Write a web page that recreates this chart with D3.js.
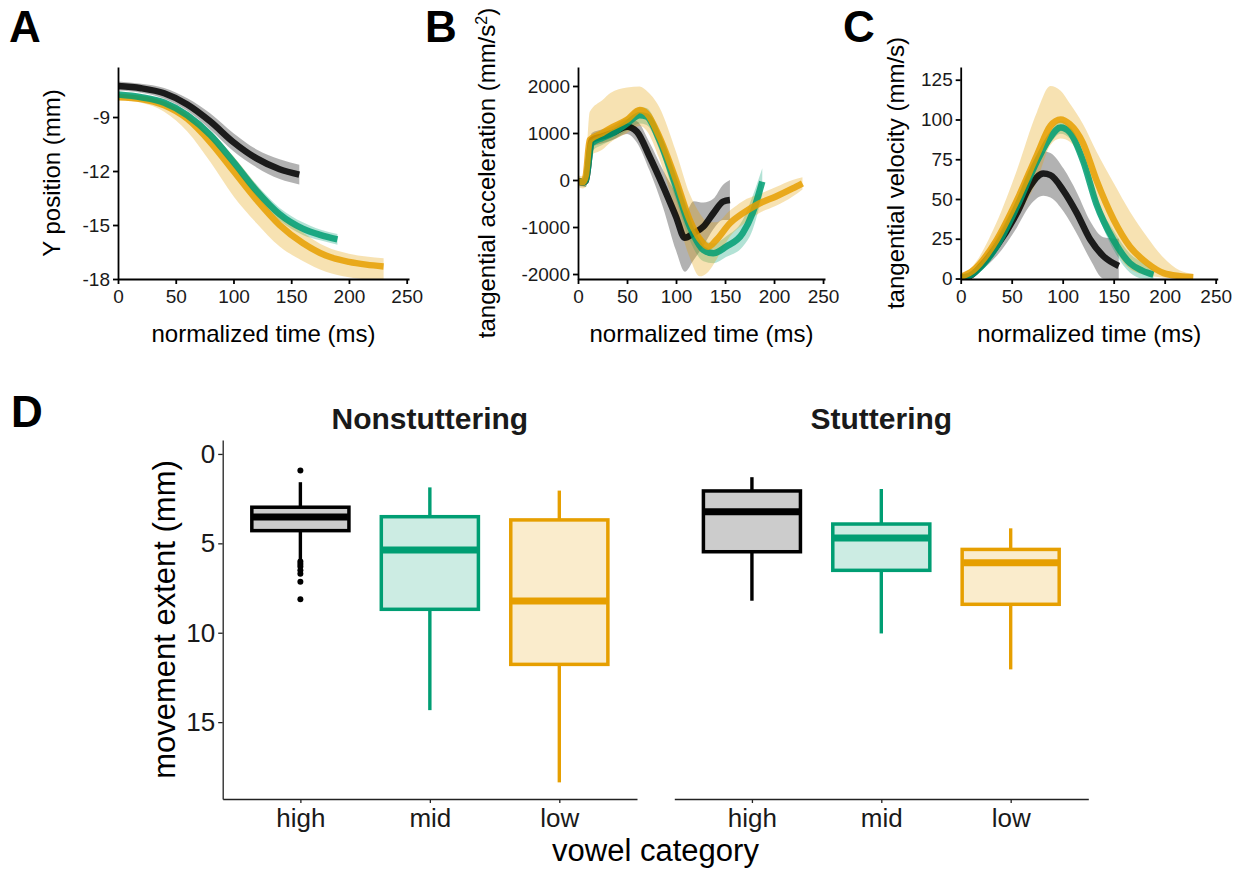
<!DOCTYPE html>
<html><head><meta charset="utf-8">
<script src="https://cdn.jsdelivr.net/npm/d3@7"></script>
<style>
body{margin:0;background:#fff;}
svg{display:block;font-family:"Liberation Sans",Arial,Helvetica,sans-serif;}
</style></head><body>
<svg id="chart" width="1243" height="871"></svg>
<script>
// ---------------- DATA ----------------
const groups = ["high", "mid", "low"];
const timeTicks = [0, 50, 100, 150, 200, 250];

// Panel A: Y position (mm)
const aTimeHigh = [0, 20, 40, 60, 80, 100, 120, 140, 157];
const aMeanHigh = [-7.28, -7.4, -7.68, -8.3, -9.25, -10.4, -11.3, -11.9, -12.2];
const aHiHigh   = [-7.03, -7.15, -7.38, -7.95, -8.8, -9.9, -10.8, -11.35, -11.65];
const aLoHigh   = [-7.53, -7.65, -7.98, -8.65, -9.7, -10.9, -11.8, -12.45, -12.75];
const aTimeMid = [0, 20, 40, 60, 80, 100, 120, 140, 160, 175, 190];
const aMeanMid = [-7.75, -7.9, -8.2, -8.9, -10.0, -11.5, -13.1, -14.4, -15.2, -15.55, -15.8];
const aHiMid   = [-7.65, -7.78, -8.05, -8.7, -9.75, -11.2, -12.75, -14.05, -14.85, -15.25, -15.5];
const aLoMid   = [-7.85, -8.02, -8.35, -9.1, -10.25, -11.8, -13.45, -14.75, -15.55, -15.85, -16.1];
const aTimeLow = [0, 20, 40, 60, 80, 100, 120, 140, 160, 180, 200, 215, 230];
const aMeanLow = [-7.9, -8.0, -8.35, -9.1, -10.4, -12.0, -13.6, -15.0, -16.0, -16.7, -17.05, -17.2, -17.3];
const aHiLow   = [-7.75, -7.8, -8.1, -8.75, -9.8, -11.2, -12.8, -14.3, -15.4, -16.2, -16.6, -16.75, -16.85];
const aLoLow   = [-8.05, -8.2, -8.7, -9.8, -11.5, -13.4, -14.9, -16.2, -17.0, -17.6, -17.9, -18.0, -18.0];
const aYTicks = [-18, -15, -12, -9];

// Panel B: tangential acceleration (mm/s^2)
const bTimeHigh = [0, 5, 8, 14, 25, 35, 50, 60, 73, 87, 100, 109, 118, 128, 138, 148, 155];
const bMeanHigh = [-30, -50, -20, 850, 930, 1000, 1135, 1030, 500, -140, -780, -1230, -1130, -990, -710, -460, -425];
const bHiHigh   = [60, 40, 100, 1000, 1080, 1150, 1290, 1250, 800, 200, -300, -700, -450, -480, -400, -100, 0];
const bLoHigh   = [-120, -140, -150, 700, 780, 850, 980, 800, 200, -600, -1500, -1950, -1700, -1400, -1050, -850, -850];
const bTimeMid = [0, 5, 8, 14, 25, 35, 50, 63, 70, 83, 100, 114, 128, 138, 151, 168, 178, 188];
const bMeanMid = [-30, -50, 0, 780, 900, 990, 1200, 1380, 1350, 850, -140, -990, -1490, -1560, -1420, -1135, -710, -35];
const bHiMid   = [50, 30, 150, 950, 1050, 1130, 1350, 1550, 1530, 1050, 150, -700, -1250, -1350, -1200, -850, -350, 250];
const bLoMid   = [-110, -130, -150, 600, 750, 850, 1050, 1200, 1170, 650, -430, -1280, -1730, -1770, -1640, -1420, -1070, -320];
const bTimeLow = [0, 5, 8, 12, 25, 33, 50, 63, 70, 83, 100, 114, 124, 133, 141, 155, 168, 185, 202, 219, 229];
const bMeanLow = [-30, -50, 100, 850, 1000, 1100, 1280, 1490, 1420, 920, 0, -850, -1250, -1420, -1280, -920, -710, -500, -350, -180, -70];
const bHiLow   = [100, 80, 400, 1450, 1700, 1850, 1970, 1990, 1900, 1550, 600, -300, -700, -900, -900, -650, -450, -300, -150, 0, 60];
const bLoLow   = [-150, -180, -150, 500, 650, 800, 1000, 1150, 1050, 450, -700, -1650, -2050, -1950, -1700, -1200, -950, -700, -550, -350, -200];
const bYTicks = [-2000, -1000, 0, 1000, 2000];

// Panel C: tangential velocity (mm/s)
const cTimeHigh = [0, 9, 20, 35, 55, 68, 81, 88, 101, 114, 127, 140, 155];
const cMeanHigh = [0.3, 1.5, 8, 20, 41, 58, 66, 65, 55, 41, 24.5, 14, 7.9];
const cHiHigh   = [0.8, 3, 11, 26, 50, 70, 80, 79, 69, 54, 36, 26, 25];
const cLoHigh   = [-0.2, 0, 5, 14, 32, 46, 52, 51, 42, 28, 12, 0, -0.3];
const cTimeMid = [0, 8, 16, 35, 55, 75, 88, 98, 107, 120, 133, 150, 166, 178, 189];
const cMeanMid = [0.5, 1.5, 5, 20, 45, 74, 89, 95, 92, 74, 47, 24, 9.6, 5, 2.4];
const cHiMid   = [1, 2.5, 7, 23, 49, 78, 93, 99, 96, 78, 51, 30, 15.6, 10, 5.4];
const cLoMid   = [0, 0.5, 3, 17, 41, 70, 85, 91, 88, 70, 43, 18, 3.6, 0, -0.3];
const cTimeLow = [0, 12, 35, 55, 75, 88, 98, 107, 120, 133, 150, 166, 183, 199, 215, 228];
const cMeanLow = [1, 5, 24, 49, 78, 96, 100, 97, 85, 62, 37, 20, 9.6, 3.4, 1.5, 0.8];
const cHiLow   = [2, 8, 35, 68, 105, 121, 118, 110, 97, 80, 60, 42, 26, 13, 5, 3];
const cLoLow   = [0, 3, 17, 38, 62, 84, 88, 86, 72, 46, 20, 6, 2, 0.5, 0, 0];
const cYTicks = [0, 25, 50, 75, 100, 125];

// Panel D: movement extent (mm) boxplots
const facets = ["Nonstuttering", "Stuttering"];
const nsWhiskerLow = [1.58, 1.87, 2.05];
const nsQ1         = [2.98, 3.51, 3.69];
const nsMedian     = [3.53, 5.37, 8.23];
const nsQ3         = [4.29, 8.69, 11.77];
const nsWhiskerHigh= [5.93, 14.33, 18.37];
const nsOutliersHigh = [0.93, 6.02, 6.15, 6.3, 6.5, 6.7, 7.15, 8.13];
const stWhiskerLow = [1.30, 1.96, 4.16];
const stQ1         = [2.07, 3.92, 5.34];
const stMedian     = [3.23, 4.70, 6.08];
const stQ3         = [5.47, 6.51, 8.41];
const stWhiskerHigh= [8.21, 10.04, 12.05];
const dYTicks = [0, 5, 10, 15];

// ---------------- STYLE ----------------
const COL = {high: "#000000", mid: "#009E73", low: "#E69F00"};
const FONT_TICK = 19, FONT_TITLE = 24;
const fmt = d => String(d);
const svg = d3.select("#chart");

function styleAxis(g, fs, col, sw) {
  g.select(".domain").attr("stroke", col).attr("stroke-width", sw);
  g.selectAll(".tick line").attr("stroke", col).attr("stroke-width", sw);
  g.selectAll(".tick text").attr("fill", "#1a1a1a").attr("font-size", fs).attr("font-family", null);
  g.attr("font-family", null);
}

function timePanel(cfg) {
  const x = d3.scaleLinear().domain([0, 252]).range(cfg.xRange);
  const y = d3.scaleLinear().domain(cfg.yDomain).range([279, 67]);
  const g = svg.append("g");
  const area = d3.area().curve(d3.curveMonotoneX)
    .x(d => x(d.t)).y0(d => y(d.lo)).y1(d => y(d.hi));
  const line = d3.line().curve(d3.curveMonotoneX)
    .x(d => x(d.t)).y(d => y(d.m));
  const clipId = "clip" + cfg.id;
  svg.append("clipPath").attr("id", clipId).append("rect")
    .attr("x", cfg.xRange[0]).attr("y", 60).attr("width", cfg.xRange[1] - cfg.xRange[0] + 10).attr("height", 219);
  const plot = g.append("g").attr("clip-path", `url(#${clipId})`);
  const rows = s => s.t.map((t, i) => ({t, m: s.mean[i], lo: s.lo[i], hi: s.hi[i]}));
  cfg.series.forEach(s => {
    plot.append("path").datum(rows(s)).attr("d", area)
      .attr("fill", COL[s.key]).attr("fill-opacity", 0.3);
  });
  cfg.lineOrder.forEach(k => {
    const s = cfg.series.find(d => d.key === k);
    plot.append("path").datum(rows(s)).attr("d", line)
      .attr("fill", "none").attr("stroke", COL[k]).attr("stroke-width", 6.5)
      .attr("stroke-opacity", 0.85);
  });
  const ax = g.append("g").attr("transform", "translate(0,279)")
    .call(d3.axisBottom(x).tickValues(timeTicks).tickFormat(fmt).tickSize(5).tickPadding(6).tickSizeOuter(0));
  styleAxis(ax, FONT_TICK, "#000", 1.8);
  const ay = g.append("g").attr("transform", `translate(${cfg.xRange[0]},0)`)
    .call(d3.axisLeft(y).tickValues(cfg.yTicks).tickFormat(fmt).tickSize(5).tickPadding(3).tickSizeOuter(0));
  styleAxis(ay, FONT_TICK, "#000", 1.8);
  g.append("text").attr("x", (cfg.xRange[0] + cfg.xRange[1]) / 2).attr("y", 342)
    .attr("text-anchor", "middle").attr("font-size", FONT_TITLE).attr("fill", "#000")
    .text("normalized time (ms)");
  const yt = g.append("text").attr("transform", `translate(${cfg.yTitleX},173) rotate(-90)`)
    .attr("text-anchor", "middle").attr("font-size", FONT_TITLE).attr("fill", "#000");
  yt.append("tspan").text(cfg.yTitle);
  if (cfg.sup) {
    yt.append("tspan").attr("font-size", 16).attr("baseline-shift", "super").text(cfg.sup);
    yt.append("tspan").text(")");
  }
  svg.append("text").attr("x", cfg.labelX).attr("y", 42).attr("font-size", 44)
    .attr("font-weight", "bold").attr("fill", "#000").text(cfg.label);
}

timePanel({id: "A", label: "A", labelX: 9, xRange: [118, 409], yDomain: [-18, -6.22], yTicks: aYTicks,
  yTitle: "Y position (mm)", yTitleX: 60, lineOrder: ["low", "mid", "high"],
  series: [
    {key: "high", t: aTimeHigh, mean: aMeanHigh, lo: aLoHigh, hi: aHiHigh},
    {key: "mid", t: aTimeMid, mean: aMeanMid, lo: aLoMid, hi: aHiMid},
    {key: "low", t: aTimeLow, mean: aMeanLow, lo: aLoLow, hi: aHiLow}]});

timePanel({id: "B", label: "B", labelX: 425, xRange: [578, 825], yDomain: [-2106, 2404], yTicks: bYTicks,
  yTitle: "tangential acceleration (mm/s", sup: "2", yTitleX: 495, lineOrder: ["high", "mid", "low"],
  series: [
    {key: "high", t: bTimeHigh, mean: bMeanHigh, lo: bLoHigh, hi: bHiHigh},
    {key: "mid", t: bTimeMid, mean: bMeanMid, lo: bLoMid, hi: bHiMid},
    {key: "low", t: bTimeLow, mean: bMeanLow, lo: bLoLow, hi: bHiLow}]});

timePanel({id: "C", label: "C", labelX: 843, xRange: [960.7, 1217.7], yDomain: [-0.3, 133], yTicks: cYTicks,
  yTitle: "tangential velocity (mm/s)", yTitleX: 904, lineOrder: ["high", "mid", "low"],
  series: [
    {key: "high", t: cTimeHigh, mean: cMeanHigh, lo: cLoHigh, hi: cHiHigh},
    {key: "mid", t: cTimeMid, mean: cMeanMid, lo: cLoMid, hi: cHiMid},
    {key: "low", t: cTimeLow, mean: cMeanLow, lo: cLoLow, hi: cHiLow}]});

// ---------------- PANEL D ----------------
const yD = d3.scaleLinear().domain([-0.78, 19.3]).range([440, 799]);
const facetRanges = [[222.7, 637], [674.3, 1088.3]];
const facetData = [
  {wl: nsWhiskerLow, q1: nsQ1, med: nsMedian, q3: nsQ3, wh: nsWhiskerHigh, out: nsOutliersHigh},
  {wl: stWhiskerLow, q1: stQ1, med: stMedian, q3: stQ3, wh: stWhiskerHigh, out: []}];
const gD = svg.append("g");
facetRanges.forEach((r, fi) => {
  const xD = d3.scalePoint().domain(groups).range(r).padding(0.6);
  const bw = xD.step() * 0.75;
  const fd = facetData[fi];
  const fg = gD.append("g");
  groups.forEach((k, i) => {
    const cx = xD(k);
    fg.append("line").attr("x1", cx).attr("x2", cx).attr("y1", yD(fd.wl[i])).attr("y2", yD(fd.q1[i]))
      .attr("stroke", COL[k]).attr("stroke-width", 3.4);
    fg.append("line").attr("x1", cx).attr("x2", cx).attr("y1", yD(fd.q3[i])).attr("y2", yD(fd.wh[i]))
      .attr("stroke", COL[k]).attr("stroke-width", 3.4);
    fg.append("rect").attr("x", cx - bw / 2).attr("width", bw)
      .attr("y", yD(fd.q1[i])).attr("height", yD(fd.q3[i]) - yD(fd.q1[i]))
      .attr("fill", d3.interpolateRgb("#ffffff", COL[k])(0.2)).attr("stroke", COL[k]).attr("stroke-width", 3.5);
    fg.append("line").attr("x1", cx - bw / 2 + 1).attr("x2", cx + bw / 2 - 1)
      .attr("y1", yD(fd.med[i])).attr("y2", yD(fd.med[i]))
      .attr("stroke", COL[k]).attr("stroke-width", 7);
  });
  fd.out.forEach(v => {
    fg.append("circle").attr("cx", xD("high")).attr("cy", yD(v)).attr("r", 3).attr("fill", "#000");
  });
  const ax = gD.append("g").attr("transform", "translate(0,799)")
    .call(d3.axisBottom(xD).tickSize(4).tickPadding(6).tickSizeOuter(0));
  styleAxis(ax, 26, "#222", 1.3);
  gD.append("text").attr("x", (r[0] + r[1]) / 2).attr("y", 429).attr("text-anchor", "middle")
    .attr("font-size", 30).attr("font-weight", "bold").attr("fill", "#1a1a1a").text(facets[fi]);
});
const ayD = gD.append("g").attr("transform", "translate(222.7,0)")
  .call(d3.axisLeft(yD).tickValues(dYTicks).tickFormat(fmt).tickSize(4.5).tickPadding(3).tickSizeOuter(0));
styleAxis(ayD, 26, "#222", 1.3);
gD.append("text").attr("transform", "translate(175,619.5) rotate(-90)").attr("text-anchor", "middle")
  .attr("font-size", 31).attr("fill", "#000").text("movement extent (mm)");
gD.append("text").attr("x", 655.5).attr("y", 861).attr("text-anchor", "middle")
  .attr("font-size", 31).attr("fill", "#000").text("vowel category");
svg.append("text").attr("x", 11).attr("y", 427).attr("font-size", 44)
  .attr("font-weight", "bold").attr("fill", "#000").text("D");
</script>
</body></html>
